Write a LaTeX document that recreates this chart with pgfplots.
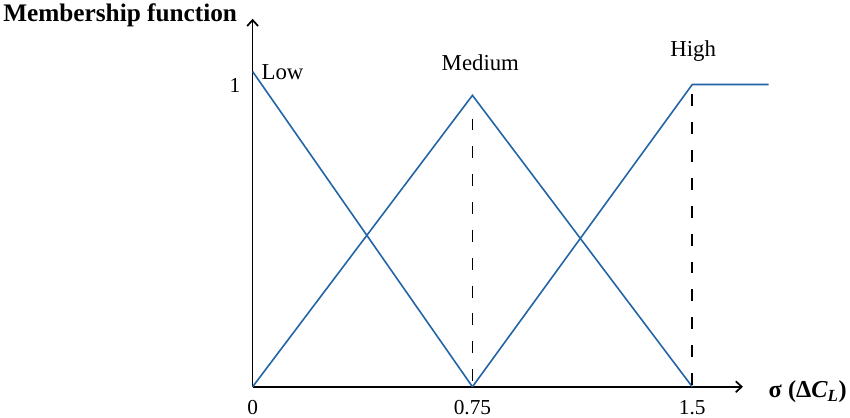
\documentclass[border=0pt]{standalone}
\usepackage{pgfplots}
\pgfplotsset{compat=1.18}
\usetikzlibrary{arrows.meta}
\usepackage{fontspec}
\setmainfont{Liberation Serif}
\definecolor{mfblue}{RGB}{33,101,166}
\begin{document}
\begin{tikzpicture}
\begin{axis}[
  x=294.67bp, y=303bp,
  axis lines=left,
  axis line style={line width=1.7bp, -{Straight Barb[length=6bp,width=11bp]}},
  xmin=0, xmax=1.673, ymin=0, ymax=1.221,
  xtick={0,0.75,1.5}, xticklabels={0,0.75,1.5},
  ytick={1}, yticklabels={1},
  major tick length=0,
  tick label style={font=\fontsize{21.5}{24}\selectfont},
  xticklabel style={yshift=-10bp},
  yticklabel style={xshift=-9bp},
  clip=false,
]
\path (axis cs:-0.8586,-0.099) rectangle (axis cs:2.026,1.2805);
\addplot[mfblue, line width=1.6bp] coordinates {(0,1.046) (0.75,0)};
\addplot[mfblue, line width=1.6bp] coordinates {(0,0) (0.75,0.967) (1.5,0)};
\addplot[mfblue, line width=1.6bp] coordinates {(0.75,0) (1.5,1.003) (1.761,1.003)};
\addplot[black, line width=1.8bp, dash pattern=on 12bp off 16bp] coordinates {(0.75,0.89) (0.75,0)};
\addplot[black, line width=1.8bp, dash pattern=on 12bp off 16bp] coordinates {(1.5,0.97) (1.5,0)};
\node[font=\fontsize{23}{26}\selectfont] at (axis cs:0.102,1.043) {Low};
\node[font=\fontsize{23}{26}\selectfont] at (axis cs:0.777,1.076) {Medium};
\node[font=\fontsize{23}{26}\selectfont] at (axis cs:1.503,1.115) {High};
\node[font=\fontsize{25.5}{28}\selectfont\bfseries] at (axis cs:-0.452,1.234) {Membership function};
\node[font=\fontsize{24.5}{28}\selectfont\bfseries] at (axis cs:1.894,-0.017) {σ (Δ\textit{C}\textsubscript{\textit{L}})};
\end{axis}
\end{tikzpicture}
\end{document}
